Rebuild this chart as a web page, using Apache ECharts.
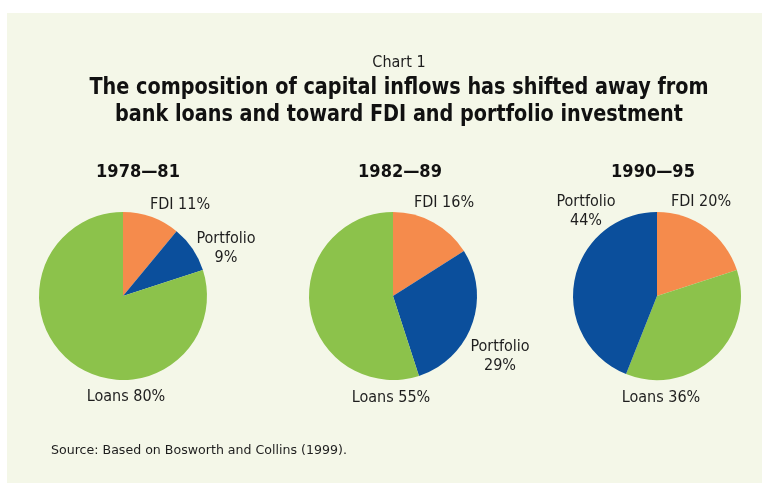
<!DOCTYPE html>
<html>
<head>
<meta charset="utf-8">
<style>
  html, body { margin: 0; padding: 0; background: #ffffff; }
  #chart { position: absolute; left: 7px; top: 13px; width: 755px; height: 470px; }
</style>
<script src="https://cdn.jsdelivr.net/npm/echarts@6/dist/echarts.min.js"></script>
</head>
<body>
<div id="chart"></div>
<script>
// Composition of capital inflows by period (percent of total)
const periods = ['1978\u201481', '1982\u201489', '1990\u201495'];
const categories = ['FDI', 'Portfolio', 'Loans'];
const fdi = [11, 16, 20];
const portfolio = [9, 29, 44];
const loans = [80, 55, 36];

// Clockwise slice order from 12 o'clock for each pie
const sliceOrder = [
  ['FDI', 'Portfolio', 'Loans'],
  ['FDI', 'Portfolio', 'Loans'],
  ['FDI', 'Loans', 'Portfolio']
];

const colors = { FDI: '#F58B4C', Portfolio: '#0B4F9C', Loans: '#8CC24B' };
const FONT = '"Liberation Sans Narrow", "DejaVu Sans Condensed", "Liberation Sans", sans-serif';
const WIDE = '"DejaVu Sans", "Liberation Sans", sans-serif';

// Pie geometry (pixels inside the chart box)
const pieCenters = [[116, 283], [386, 283], [650, 283]];
const pieRadius = 84;

// Label anchor points for each slice, keyed by category
const labelSpots = [
  { FDI: [173, 192], Portfolio: [219, 235], Loans: [119, 384] },
  { FDI: [437, 190], Portfolio: [493, 343], Loans: [384, 385] },
  { FDI: [694, 189], Portfolio: [579, 198], Loans: [654, 385] }
];

function valueOf(cat, i) {
  if (cat === 'FDI') return fdi[i];
  if (cat === 'Portfolio') return portfolio[i];
  return loans[i];
}

const series = periods.map(function (p, i) {
  return {
    type: 'pie',
    name: p,
    center: pieCenters[i],
    radius: pieRadius,
    startAngle: 90,
    clockwise: true,
    silent: true,
    animation: false,
    avoidLabelOverlap: false,
    data: sliceOrder[i].map(function (cat) {
      return { name: cat, value: valueOf(cat, i), itemStyle: { color: colors[cat] } };
    }),
    label: {
      show: true,
      position: 'inside',
      overflow: 'none',
      fontFamily: FONT,
      fontSize: 16,
      color: '#1e1e1e',
      lineHeight: 19,
      align: 'center',
      formatter: function (d) {
        return d.name === 'Portfolio' ? d.name + '\n' + d.value + '%' : d.name + ' ' + d.value + '%';
      }
    },
    labelLine: { show: false },
    labelLayout: function (params) {
      const cat = sliceOrder[i][params.dataIndex];
      const pt = labelSpots[i][cat];
      return { x: pt[0], y: pt[1], align: 'center', verticalAlign: 'middle', hideOverlap: false };
    }
  };
});

const yearTitleX = [126, 388, 641];
const titles = [
  {
    text: 'Source: Based on Bosworth and Collins (1999).', left: 39, top: 426,
    textStyle: { fontFamily: WIDE, fontSize: 12.6, fontWeight: 'normal', color: '#1e1e1e' }
  }
];
periods.forEach(function (p, i) {
  titles.push({
    text: p, left: yearTitleX[i], top: 145, textAlign: 'center',
    textStyle: { fontFamily: FONT, fontSize: 18, fontWeight: 'bold', color: '#111111' }
  });
});

// Heading lines, horizontally condensed
const headingLines = [
  'The composition of capital inflows has shifted away from',
  'bank loans and toward FDI and portfolio investment'
];
const graphics = [
  {
    type: 'text', x: 392, y: 50, silent: true,
    style: { text: 'Chart 1', font: 'normal 16px ' + FONT, fill: '#1e1e1e', textAlign: 'center', textVerticalAlign: 'middle' }
  }
];
headingLines.forEach(function (line, k) {
  graphics.push({
    type: 'text', x: 392, y: 75 + k * 27, scaleX: 0.93, silent: true,
    style: { text: line, font: 'bold 23px ' + FONT, fill: '#111111', textAlign: 'center', textVerticalAlign: 'middle' }
  });
});

const chart = echarts.init(document.getElementById('chart'), null, { renderer: 'canvas' });
chart.setOption({
  backgroundColor: '#F4F7E8',
  animation: false,
  title: titles,
  graphic: graphics,
  series: series
});
</script>
</body>
</html>
